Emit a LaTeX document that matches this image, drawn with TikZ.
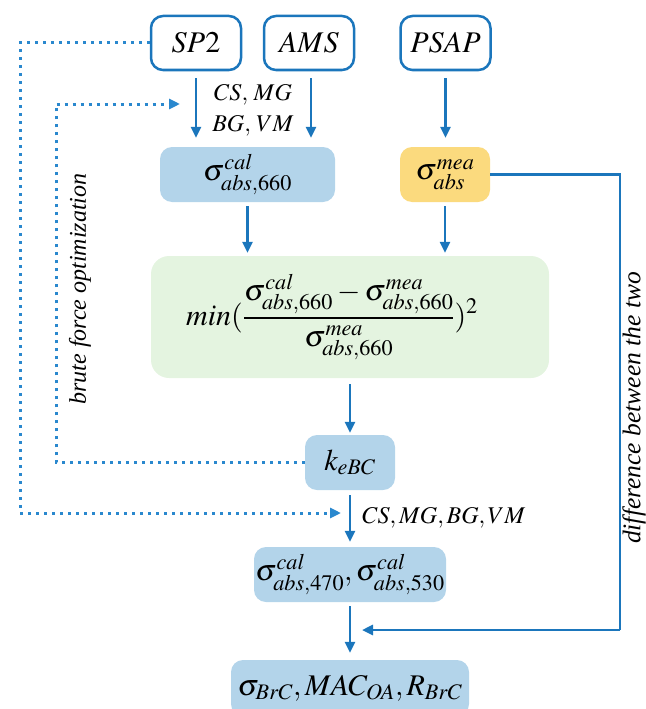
\documentclass[tikz,border=0pt]{standalone}
\usepackage{mathptmx}
\usepackage[no-math]{fontspec}
\setmainfont{Liberation Serif}
\usetikzlibrary{arrows.meta}
\definecolor{bord}{HTML}{1B76BC}
\definecolor{dotc}{HTML}{2A88CE}
\definecolor{lblue}{HTML}{B3D4EA}
\definecolor{lyel}{HTML}{FBDA7E}
\definecolor{lgreen}{HTML}{E4F4E0}
\begin{document}
\begin{tikzpicture}[x=1pt,y=-1pt,
  big/.style={font=\fontsize{30}{36}\selectfont},
  lab/.style={font=\fontsize{24}{29}\selectfont, inner sep=0pt},
  srcbox/.style={big, draw=bord, line width=2.5pt, rounded corners=12pt, fill=white,
    minimum width=90pt, minimum height=54pt, inner sep=0pt},
  fbox/.style={big, rounded corners=12pt, inner sep=0pt, minimum height=55pt},
  arr/.style={draw=bord, line width=2.6pt, -{Triangle[length=11pt,width=10pt]}},
  dotarr/.style={draw=dotc, line width=3pt, dash pattern=on 3pt off 5pt,
    -{Triangle[length=11pt,width=10pt]}},
  dotline/.style={draw=dotc, line width=3pt, dash pattern=on 3pt off 5pt},
  solid line/.style={draw=bord, line width=2.6pt}
]
\useasboundingbox (0,0) rectangle (645,709);

% source boxes
\node[srcbox] (sp2)  at (196,43) {$SP2$};
\node[srcbox] (ams)  at (309,43) {$AMS$};
\node[srcbox] (psap) at (445.5,43) {$PSAP$};

% first row of results
\node[fbox, fill=lblue, minimum width=175pt] (cal) at (247.5,174.5) {$\sigma^{cal}_{abs,660}$};
\node[fbox, fill=lyel, minimum width=90pt] (mea) at (445,174.5) {$\sigma^{mea}_{abs}$};

% minimisation box
\node[fbox, fill=lgreen, rounded corners=18pt, minimum width=398pt, minimum height=122pt] (green) at (350,317) {};
\node[big, inner sep=0pt] (formula) at (332,317)
  {$min(\displaystyle\frac{\sigma^{cal}_{abs,660}-\sigma^{mea}_{abs,660}}{\sigma^{mea}_{abs,660}})^2$};

\node[fbox, fill=lblue, minimum width=90pt] (kebc) at (350,462.5) {$k_{eBC}$};
\node[fbox, fill=lblue, minimum width=192pt] (c470) at (350,574.5) {$\sigma^{cal}_{abs,470},\sigma^{cal}_{abs,530}$};
\node[fbox, fill=lblue, minimum width=238pt, minimum height=56pt] (res) at (350,688) {$\sigma_{BrC},MAC_{OA},R_{BrC}$};

% labels
\node[lab] (l1) at (253,95) {$CS,\,MG$};
\node[lab] (l2) at (253,126) {$BG,\,VM$};
\node[lab, anchor=west] (l3) at (362,518) {$CS,MG,BG,VM$};
\node[lab, rotate=90] (bfo) at (80,289) {\textit{brute force optimization}};
\node[lab, rotate=90, font=\fontsize{25.5}{30}\selectfont] (dbt) at (634,408) {\textit{difference between the two}};

% solid arrows
\draw[arr, shorten <=7pt, shorten >=9pt] (sp2.south) -- (sp2.south |- cal.north);
\draw[arr, shorten <=7pt, shorten >=9pt] ([xshift=2pt]ams.south) -- ([xshift=2pt]ams.south |- cal.north);
\draw[arr, shorten <=7pt, shorten >=9pt] (psap.south) -- (psap.south |- mea.north);
\draw[arr, shorten <=4pt, shorten >=3pt] (cal.south) -- (cal.south |- green.north);
\draw[arr, shorten <=4pt, shorten >=3pt] (mea.south) -- (mea.south |- green.north);
\draw[arr, shorten <=6pt, shorten >=2pt] (green.south) -- (kebc.north);
\draw[arr, shorten <=5pt, shorten >=5pt] (kebc.south) -- (c470.north);
\draw[arr, shorten <=4pt, shorten >=7pt] (c470.south) -- (res.north);

% difference path
\coordinate (rc) at (620,630);
\coordinate (rt) at (362,630);
\draw[solid line] (mea.east) -| (rc);
\draw[arr] (rc) -- (rt);

% outer dotted
\coordinate (o1) at (20,43);
\coordinate (o2) at (20,513);
\coordinate (ot) at (341,513);
\draw[dotline] (sp2.west) -- (o1) -- (o2) -- ([xshift=-10pt]ot);
\draw[dotarr] ([xshift=-11pt]ot) -- (ot);

% inner dotted (brute force loop)
\coordinate (i1) at (56,462.5);
\coordinate (i2) at (56,104);
\coordinate (it) at (180,104);
\draw[dotline] (kebc.west) -- (i1) -- (i2) -- ([xshift=-10pt]it);
\draw[dotarr] ([xshift=-11pt]it) -- (it);
\end{tikzpicture}
\end{document}
